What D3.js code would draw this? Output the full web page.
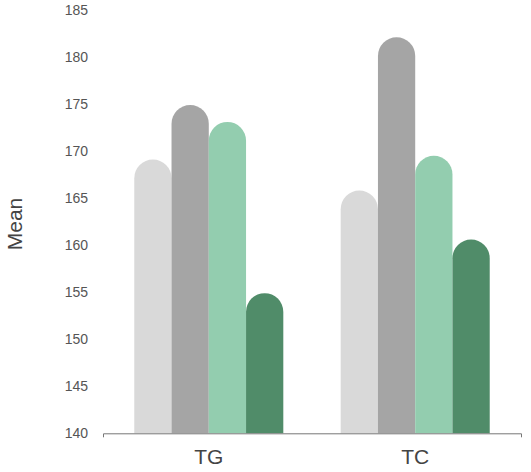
<!DOCTYPE html>
<meta charset="utf-8">
<script src="https://d3js.org/d3.v7.min.js"></script>
<style>
  body { margin: 0; background: #fff; }
  text { font-family: "Liberation Sans", Arial, sans-serif; }
</style>
<div id="chart"></div>
<script>
  // data
  var categories = ["TG", "TC"];
  var seriesNames = ["s1", "s2", "s3", "s4"];
  var tgValues = [169.1, 174.9, 173.1, 154.9];
  var tcValues = [165.8, 182.1, 169.5, 160.6];
  var yTicks = [140, 145, 150, 155, 160, 165, 170, 175, 180, 185];
  var colors = ["#d9d9d9", "#a5a5a5", "#93cdaf", "#508c69"];

  var data = [
    { cat: "TG", values: tgValues },
    { cat: "TC", values: tcValues }
  ];

  var width = 531, height = 472;

  var svg = d3.select("#chart")
    .append("svg")
    .attr("width", width)
    .attr("height", height);

  // scales
  var x = d3.scaleBand()
    .domain(categories)
    .range([103, 521])
    .paddingInner(0.278)
    .paddingOuter(0.1515);

  var xs = d3.scaleBand()
    .domain(seriesNames)
    .range([0, x.bandwidth()]);

  var y = d3.scaleLinear()
    .domain([140, 185])
    .range([433.3, 10]);

  // y tick labels (no axis line)
  var yAxis = svg.append("g")
    .attr("transform", "translate(95,0)")
    .call(d3.axisLeft(y).tickValues(yTicks).tickSize(0).tickPadding(7));
  yAxis.select(".domain").remove();
  yAxis.selectAll("text")
    .attr("fill", "#555")
    .style("font-size", "14px")
    .style("font-family", "Liberation Sans, Arial, sans-serif");

  // bars with rounded tops
  function barPath(x0, w, top, base) {
    var r = w / 2;
    return "M" + x0 + "," + base +
      "L" + x0 + "," + (top + r) +
      "A" + r + "," + r + " 0 0 1 " + (x0 + w) + "," + (top + r) +
      "L" + (x0 + w) + "," + base + "Z";
  }

  var groups = svg.selectAll(".grp")
    .data(data)
    .enter()
    .append("g")
    .attr("class", "grp")
    .attr("transform", function (d) { return "translate(" + x(d.cat) + ",0)"; });

  groups.selectAll("path")
    .data(function (d) { return d.values.map(function (v, i) { return { key: seriesNames[i], v: v, i: i }; }); })
    .enter()
    .append("path")
    .attr("fill", function (d) { return colors[d.i]; })
    .attr("d", function (d) { return barPath(xs(d.key), xs.bandwidth(), y(d.v), y(140)); });

  // x axis
  var xAxis = svg.append("g")
    .attr("transform", "translate(0," + y(140) + ")")
    .call(d3.axisBottom(x).tickSize(0).tickSizeOuter(4).tickPadding(16));
  xAxis.select(".domain").attr("stroke", "#777");
  xAxis.selectAll("text")
    .attr("fill", "#444")
    .style("font-size", "21px")
    .style("font-family", "Liberation Sans, Arial, sans-serif");

  // y axis label
  svg.append("text")
    .attr("transform", "translate(22,224) rotate(-90)")
    .attr("text-anchor", "middle")
    .attr("fill", "#444")
    .style("font-size", "21px")
    .text("Mean");
</script>
